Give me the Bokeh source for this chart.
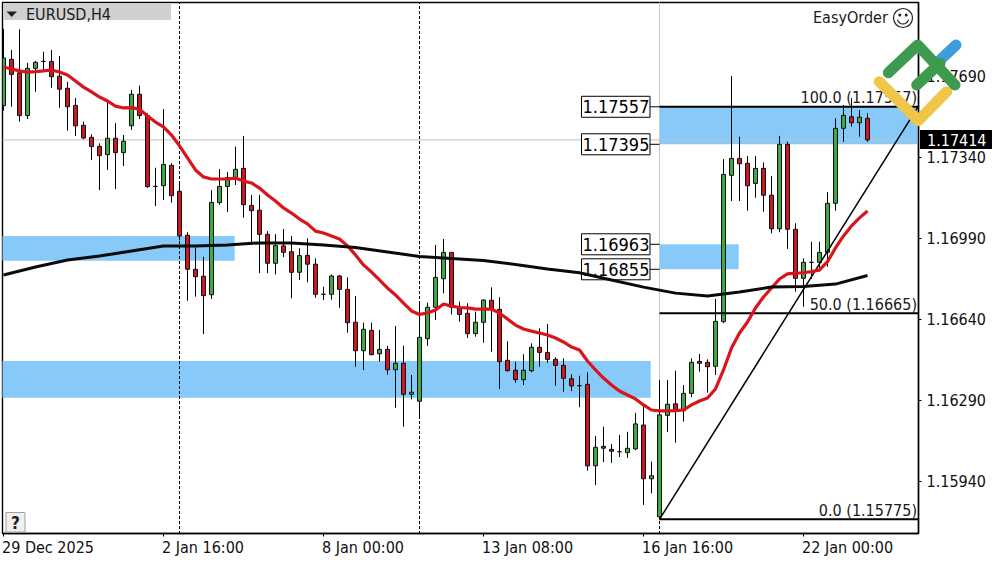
import numpy as np
from bokeh.plotting import figure
from bokeh.layouts import column
from bokeh.models import FixedTicker, Label, Range1d
from bokeh.embed import file_html
from bokeh.resources import INLINE

# ---- data, prices in 1e-5 points ----
opens = [117562,117762,117704,117519,117723,117753,117753,117689,117637,117563,117477,117425,117386,117350,117421,117359,
         117475,117611,117519,117213,117216,117304,117192,117002,116855,116825,116745,117143,117213,117251,117291,117131,
         117110,117006,116881,116956,116931,116842,116915,116877,116747,116747,116826,116768,116626,116503,116591,116490,
         116509,116421,116449,116315,116285,116555,116691,116814,116928,116691,116665,116577,116626,116721,116682,116462,
         116419,116378,116417,116518,116496,116466,116440,116382,116352,116358,116006,116090,116077,116067,116063,116079,
         116182,115950,115786,116224,116274,116244,116319,116457,116453,116436,116629,117261,117334,117313,117226,117291,
         117175,117030,117395,117028,116816,116885,116885,116928,117140,117464,117514,117488,117507]
highs = [117894,117802,117892,117747,117755,117795,117802,117776,117665,117595,117493,117438,117399,117579,117486,117435,
         117630,117648,117529,117294,117547,117313,117231,117015,116950,116909,117197,117288,117275,117385,117431,117176,
         117176,117020,117007,117029,116999,116946,116989,116902,116780,116833,116830,116820,116740,116624,116624,116593,
         116524,116610,116525,116398,116711,116711,116960,116986,116929,116715,116708,116672,116725,116777,116734,116544,
         116456,116488,116535,116600,116619,116475,116470,116401,116395,116410,116135,116175,116100,116139,116153,116235,
         116264,116024,116377,116377,116417,116355,116470,116489,116466,116727,117331,117690,117428,117344,117344,117317,
         117258,117431,117406,117054,116902,116974,116974,117188,117507,117565,117594,117543,117529]
lows = [117540,117557,117493,117504,117622,117713,117639,117553,117454,117431,117417,117327,117197,117284,117202,117301,
        117457,117504,117207,117128,117154,117143,116981,116719,116737,116575,116727,117134,117103,117219,117078,116960,
        116838,116838,116833,116907,116730,116809,116799,116732,116722,116724,116689,116581,116434,116420,116483,116456,
        116400,116257,116175,116293,116213,116524,116636,116751,116660,116629,116558,116564,116538,116499,116338,116413,
        116365,116355,116410,116434,116451,116352,116326,116329,116259,115985,115923,116022,116019,116044,116040,116074,
        115837,115887,115775,116152,116106,116197,116302,116413,116322,116398,116622,117150,117150,117108,117164,117104,
        117010,117015,116943,116758,116693,116813,116845,116866,117108,117406,117471,117428,117406]
closes = [117768,117697,117519,117723,117749,117753,117687,117633,117557,117475,117422,117385,117346,117421,117359,117408,
          117611,117519,117212,117213,117308,117173,116999,116855,116823,116741,117144,117213,117251,117287,117134,117108,
          117006,116881,116957,116928,116842,116914,116877,116747,116747,116826,116768,116624,116503,116596,116486,116509,
          116421,116449,116315,116324,116561,116691,116820,116928,116691,116660,116577,116626,116722,116682,116456,116417,
          116378,116419,116518,116496,116466,116440,116384,116351,116352,116006,116086,116082,116069,116067,116082,116187,
          115950,115963,116226,116272,116244,116319,116453,116449,116434,116630,117265,117334,117311,117216,117291,117175,
          117030,117395,117028,116816,116885,116885,116928,117140,117464,117520,117488,117512,117414]

ma_fast = [117729,117720,117712,117707,117709,117712,117716,117707,117694,117668,117642,117621,117599,117582,117560,117552,
           117553,117547,117517,117491,117470,117435,117388,117336,117284,117254,117245,117245,117245,117249,117236,117228,
           117206,117176,117150,117120,117098,117072,117051,117020,117012,116999,116986,116956,116917,116874,116843,116809,
           116774,116744,116709,116675,116660,116666,116679,116705,116696,116690,116688,116683,116683,116683,116666,116640,
           116614,116597,116588,116580,116571,116558,116541,116519,116506,116459,116420,116385,116355,116329,116312,116295,
           116269,116247,116243,116243,116244,116247,116269,116286,116299,116338,116420,116515,116580,116627,116688,116735,
           116774,116813,116835,116838,116840,116845,116852,116888,116947,116999,117042,117077,117107]
ma_slow_index = [0,4,8,12,16,20,24,28,32,36,40,44,48,52,56,60,64,68,72,76,80,84,88,92,96,100,104,108]
ma_slow = [116830,116865,116895,116912,116934,116956,116956,116960,116969,116969,116960,116949,116930,116910,116902,116893,
           116876,116856,116840,116809,116778,116752,116740,116757,116778,116781,116791,116828]

price_ticks = [1.17690, 1.17340, 1.16990, 1.16640, 1.16290, 1.15940]
price_tick_labels = ["1.17690", "1.17340", "1.16990", "1.16640", "1.16290", "1.15940"]
time_ticks = [0, 20, 40, 60, 80, 100]
time_tick_labels = ["29 Dec 2025", "2 Jan 16:00", "8 Jan 00:00", "13 Jan 08:00", "16 Jan 16:00", "22 Jan 00:00"]
separators = [22, 52, 82]
current_price = 1.17414

zone_top = [1.16999, 1.16459, 1.17557, 1.16963]
zone_bottom = [1.16892, 1.16300, 1.17395, 1.16855]
zone_left = [-0.2, -0.2, 82, 82]
zone_right = [28.9, 80.9, 114.4, 91.9]
level_prices = [1.17557, 1.17395, 1.16963, 1.16855]
level_labels = ["1.17557", "1.17395", "1.16963", "1.16855"]
fib_prices = [1.17557, 1.16665, 1.15775]
fib_labels = ["100.0 (1.17557)", "50.0 (1.16665)", "0.0 (1.15775)"]
fib_start = 82
fib_end = 114.31

W, H = 1000, 562
def X(px):
    return (px - 3.5) / 8
def Y(py):
    return 1.180183 - 4.32e-5 * py
def PY(price):
    return (1.180183 - price) / 4.32e-5

FONT = "DejaVu Sans Condensed"
GREEN, RED, BLUE = "#42A845", "#CC1720", "#87CAF9"

o, h, l, c = [np.array(a) / 1e5 for a in (opens, highs, lows, closes)]
idx = np.arange(len(o))

p = figure(width=W, height=H, output_backend="svg", toolbar_location=None,
           x_range=Range1d(X(2.5), X(918.5)), y_range=Range1d(Y(533.5), Y(2.5)),
           x_axis_location="below", y_axis_location="right",
           min_border_left=2, min_border_top=2, min_border_right=W - 918, min_border_bottom=H - 533,
           background_fill_color="white", border_fill_color="white")
p.frame_align = False
p.grid.visible = False
p.outline_line_color = "black"
p.outline_line_width = 1.4

ya = p.yaxis[0]
ya.ticker = FixedTicker(ticks=price_ticks)
ya.major_label_overrides = dict(zip(price_ticks, price_tick_labels))
xa = p.xaxis[0]
xa.ticker = FixedTicker(ticks=time_ticks)
xa.major_label_overrides = {t: "" for t in time_ticks}
for ax in (xa, ya):
    ax.axis_line_color = "black"
    ax.axis_line_width = 1.4
    ax.major_tick_line_color = "black"
    ax.major_tick_in = 0
    ax.major_tick_out = 3
    ax.minor_tick_line_color = None
    ax.major_label_text_color = "#111111"
    ax.major_label_text_font = FONT
    ax.major_label_text_font_size = "16px"
ya.major_label_standoff = 5

p.quad(left=zone_left, right=zone_right, top=zone_top, bottom=zone_bottom, fill_color=BLUE, line_color=None)
p.segment(x0=separators, x1=separators, y0=Y(534), y1=Y(2), line_color="black", line_dash="3 2", line_width=1)
p.segment(x0=[X(2)], x1=[X(918)], y0=[current_price], y1=[current_price], line_color="#C0C0C0", line_width=1)
p.segment(x0=[fib_start], x1=[fib_start], y0=[fib_prices[2]], y1=[Y(2)], line_color="#C8C8C8", line_width=1)
p.segment(x0=idx, x1=idx, y0=l, y1=h, line_color="black", line_width=1)
colors = [GREEN if cc > oo else RED for oo, cc in zip(o, c)]
p.vbar(x=idx, width=0.5, top=np.maximum(o, c), bottom=np.minimum(o, c),
       fill_color=colors, line_color="#101010", line_width=1)
for lv in level_prices:
    p.segment(x0=[X(650)], x1=[fib_start], y0=[lv], y1=[lv], line_color="black", line_width=1)
p.segment(x0=[fib_start] * 3, x1=[fib_end] * 3, y0=fib_prices, y1=fib_prices, line_color="black", line_width=2)
p.segment(x0=[fib_start], x1=[fib_end], y0=[fib_prices[2]], y1=[fib_prices[0]], line_color="black", line_width=1.5)
p.line(idx, np.array(ma_fast) / 1e5, line_color="#D9141C", line_width=3.2, line_join="round")
for lv in level_prices:
    p.quad(left=[X(581.5)], right=[X(650)], top=[lv + 10.5 * 4.32e-5], bottom=[lv - 10.5 * 4.32e-5],
           fill_color="white", line_color="black", line_width=1)

# everything that reaches past the frame goes on a transparent figure over the chart
q = figure(width=W, height=H, output_backend="svg", toolbar_location=None,
           x_range=Range1d(0.5, W + 0.5), y_range=Range1d(H + 0.5, 0.5), x_axis_location=None, y_axis_location=None,
           min_border=0, background_fill_color=None, border_fill_color=None, outline_line_color=None)
q.frame_align = False
q.grid.visible = False
q.margin = (-H, 0, 0, 0)

def txt(s, px, py, size="16px", align="left", color="#1A1A1A", style="normal"):
    q.add_layout(Label(x=px, y=py, text=s, text_font=FONT, text_font_size=size, text_align=align,
                       text_baseline="middle", text_color=color, text_font_style=style))

def stroke(xs, ys, color, w=11):
    q.line(xs, ys, line_color=color, line_width=w, line_cap="round", line_join="round", level="overlay")

for lv, s in zip(level_prices, level_labels):
    txt(s, 616, PY(lv), size="18px", align="center", color="black")
q.line([3.5 + 8 * i for i in ma_slow_index], [PY(v / 1e5) for v in ma_slow],
       line_color="#0A0A0A", line_width=3, line_join="round", level="overlay")
for s, pr in zip(fib_labels, fib_prices):
    txt(s, 917, PY(pr) - 9, align="right")
for t, s in zip(time_ticks, time_tick_labels):
    txt(s, 3.5 + 8 * t - 1.5, 547, color="#111111")

q.quad(left=[3], right=[171], top=[3], bottom=[20], fill_color="#D0D0D0", line_color=None)
q.patch([6.5, 17, 11.7], [11.5, 11.5, 17], fill_color="#202020", line_color=None)
txt("EURUSD,H4", 26, 14.5)
txt("EasyOrder", 813, 17)
cx, cy = 903, 18
q.circle(x=[cx], y=[cy], radius=9.5, fill_color="white", line_color="#222222", line_width=1.2)
q.circle(x=[cx - 3.2, cx + 3.2], y=[cy - 3] * 2, size=3, fill_color="#222222", line_color=None)
sm = np.linspace(0.2, np.pi - 0.2, 14)
q.line(cx + 5.5 * np.cos(sm), cy + 0.5 + 5.5 * np.sin(sm), line_color="#222222", line_width=1.2)
q.quad(left=[6], right=[25], top=[512.5], bottom=[532], fill_color="#F0F0F0", line_color="#A0A0A0", line_width=1)
txt("?", 15.5, 523, size="17px", align="center", style="bold", color="#222222")
q.quad(left=[920], right=[992], top=[130], bottom=[149], fill_color="black", line_color=None)
txt("1.17414", 927, 140, color="white")
stroke([938.3, 956], [61.7, 45], "#3E9BDC")
stroke([879.3, 918.3, 946.7], [81.7, 120.7, 91.7], "#EFC64A")
stroke([888.3, 917.7, 955], [72.7, 45, 85], "#3E9A4E")
stroke([916.7, 940], [85, 63.3], "#3E9A4E")

root = column(p, q, spacing=0)
open("out.html", "w").write(file_html(root, INLINE))
